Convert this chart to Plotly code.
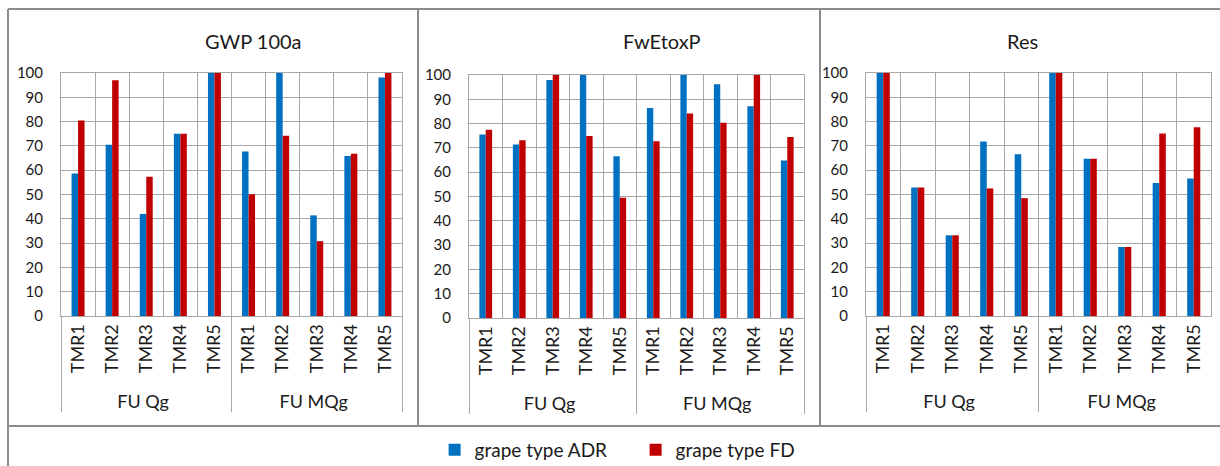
import plotly.graph_objects as go

W, H = 1220, 466

# ---- data ----
units = ["FU Qg"] * 5 + ["FU MQg"] * 5
tmrs = ["TMR1", "TMR2", "TMR3", "TMR4", "TMR5"] * 2
series_names = ["grape type ADR", "grape type FD"]
series_colors = ["#0070C0", "#C00000"]

panel_titles = ["GWP 100a", "FwEtoxP", "Res"]

gwp_adr = [58.6, 70.5, 42.0, 75.0, 100, 67.7, 100, 41.4, 65.8, 98.1]
gwp_fd = [80.5, 97.0, 57.3, 75.0, 100, 50.1, 74.2, 30.8, 66.8, 100]

fwe_adr = [75.5, 71.4, 97.9, 100, 66.6, 86.4, 100, 96.2, 87.1, 64.8]
fwe_fd = [77.5, 73.1, 100, 74.9, 49.5, 72.7, 84.2, 80.4, 100, 74.5]

res_adr = [100, 52.9, 33.2, 71.8, 66.6, 100, 64.7, 28.4, 54.7, 56.6]
res_fd = [100, 52.9, 33.2, 52.5, 48.5, 100, 64.7, 28.4, 75.1, 77.7]

y_ticks = list(range(0, 101, 10))

panels = [(gwp_adr, gwp_fd), (fwe_adr, fwe_fd), (res_adr, res_fd)]

# plot-area boxes in pixels: (left, right, top, bottom)
boxes = [(61, 402, 73, 316), (469, 804, 75, 318), (866, 1211, 73, 316)]
title_x = [253, 662, 1022]

FONT = "Lato"
TXT = "#1a1a1a"
GRID = "#a8a8a8"
BORDER = "#8c8c8c"

fig = go.Figure()

for i, (vals_a, vals_b) in enumerate(panels):
    ax = "" if i == 0 else str(i + 1)
    for s, vals in enumerate((vals_a, vals_b)):
        fig.add_trace(go.Bar(
            x=[units, tmrs], y=vals,
            name=series_names[s],
            marker=dict(color=series_colors[s], line=dict(width=0)),
            xaxis="x" + ax, yaxis="y" + ax,
            legendgroup=series_names[s],
            showlegend=(i == 0),
        ))
    l, r, t, b = boxes[i]
    fig.layout["xaxis" + ax] = dict(
        domain=[l / W, r / W], anchor="y" + ax, type="multicategory",
        tickson="boundaries", showgrid=True, gridcolor=GRID, gridwidth=1,
        showline=True, linecolor=GRID, linewidth=1, mirror=True,
        ticks="", tickangle=-90,
        tickfont=dict(family=FONT, size=18, color=TXT),
        showdividers=True, dividercolor=GRID, dividerwidth=1,
    )
    fig.layout["yaxis" + ax] = dict(
        domain=[1 - b / H, 1 - t / H], anchor="x" + ax,
        range=[0, 100], tickvals=y_ticks, showgrid=True, gridcolor=GRID,
        gridwidth=1, zeroline=False, showline=True, linecolor=GRID,
        mirror=True, ticks="", ticklabelstandoff=14,
        tickfont=dict(family=FONT, size=15, color=TXT),
    )
    fig.add_annotation(
        x=title_x[i] / W, y=1 - 41 / H, xref="paper", yref="paper",
        text=panel_titles[i], showarrow=False, xanchor="center",
        yanchor="middle", font=dict(family=FONT, size=20, color=TXT),
    )

# chart frames: outer border, panel separators, legend strip
frame = [
    (8, 9, 1230, 9), (8, 9, 8, 470), (8, 426, 1230, 426),
    (418, 9, 418, 426), (820, 9, 820, 426),
]
for x0, y0, x1, y1 in frame:
    fig.add_shape(type="line", xref="paper", yref="paper",
                  x0=x0 / W, y0=1 - y0 / H, x1=x1 / W, y1=1 - y1 / H,
                  line=dict(color=BORDER, width=2))

fig.update_layout(
    width=W, height=H,
    margin=dict(l=0, r=0, t=0, b=0, autoexpand=False),
    paper_bgcolor="white", plot_bgcolor="white",
    barmode="group", bargap=0.62, bargroupgap=0,
    showlegend=True,
    legend=dict(orientation="h", x=0.521, y=1 - 450 / H,
                xanchor="center", yanchor="middle",
                font=dict(family=FONT, size=19, color=TXT),
                itemwidth=30, entrywidth=156,
                bgcolor="rgba(0,0,0,0)"),
)

fig.write_html("out.html")
